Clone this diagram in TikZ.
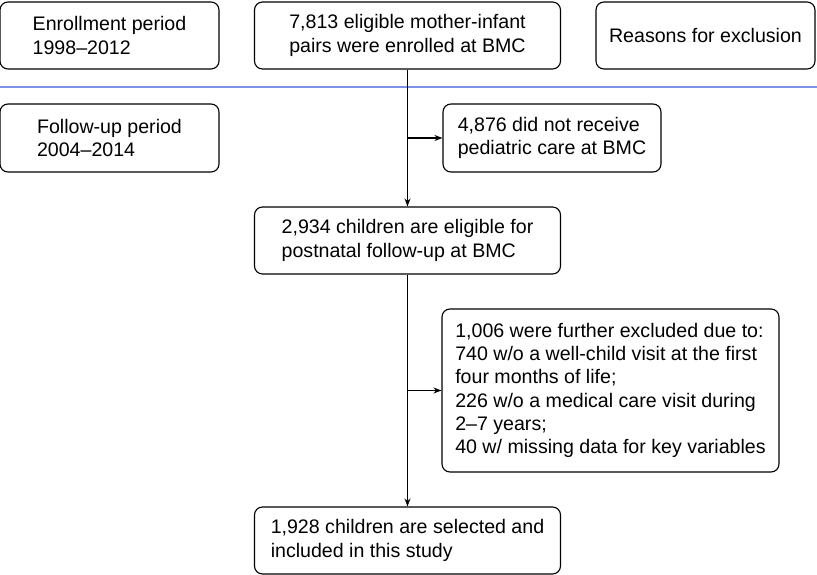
\documentclass[tikz,border=0pt]{standalone}
\usepackage{fontspec}
\setmainfont{Liberation Sans}
\usepackage{xcolor}
\usetikzlibrary{positioning, calc, arrows.meta}
\definecolor{periodline}{RGB}{125,145,230}

\begin{document}
\begin{tikzpicture}[
    x=1pt, y=-1pt,
    >={Stealth[length=8pt, width=6pt]},
    %% ── Base node style ──
    box/.style={
        rectangle, draw, line width=1.1pt, rounded corners=8pt,
        align=left, font=\fontsize{19.6}{23.3}\selectfont, inner sep=0pt,
        minimum height=67pt
    },
    %% ── Specialized styles ──
    period/.style={box, minimum width=219pt},
    stage/.style={box, minimum width=306pt},
    exclude/.style={box, minimum width=218pt},
    %% ── Arrow / line styles ──
    flow/.style={->, line width=1.2pt, color=black},
    divider/.style={line width=1.2pt, color=periodline},
]
\useasboundingbox (0,0) rectangle (817,575);

% ── Row 1 · Enrollment ──
\node[period] (enroll)  at (109.5, 35.5) {Enrollment period\\1998--2012};
\node[stage]  (pairs)   at (407.5, 35.5) {7,813 eligible mother-infant\\pairs were enrolled at BMC};
\node[period] (reasons) at (705.5, 35.5) {Reasons for exclusion};

% ── Divider between periods ──
\coordinate (divL) at (0, 87);
\coordinate (divR) at (817, 87);
\draw[divider] (divL) -- (divR);

% ── Row 2 · Follow-up ──
\node[period, minimum height=68pt]  (followup)    at (109.5, 138) {Follow-up period\\2004--2014};
\node[exclude, minimum height=68pt] (nopediatric) at (552, 138)   {4,876 did not receive\\pediatric care at BMC};

% ── Main column ──
\node[stage] (eligible) at (407.5, 240.5) {2,934 children are eligible for\\postnatal follow-up at BMC};
\node[box, minimum width=337pt, minimum height=163pt] (further) at (610.5, 390.5)
    {1,006 were further excluded due to:\\740 w/o a well-child visit at the first\\four months of life;\\226 w/o a medical care visit during\\2--7 years;\\40 w/ missing data for key variables};
\node[stage] (selected) at (407.5, 540.5) {1,928 children are selected and\\included in this study};

% Vertical flow
\draw[flow] (pairs.south)    -- (eligible.north);
\draw[flow] (eligible.south) -- (selected.north);

% Side branches to exclusions
\coordinate (branchA) at (pairs.south |- nopediatric.west);
\coordinate (branchB) at (eligible.south |- further.west);
\draw[flow] (branchA) -- (nopediatric.west);
\draw[flow] (branchB) -- (further.west);

\end{tikzpicture}
\end{document}
